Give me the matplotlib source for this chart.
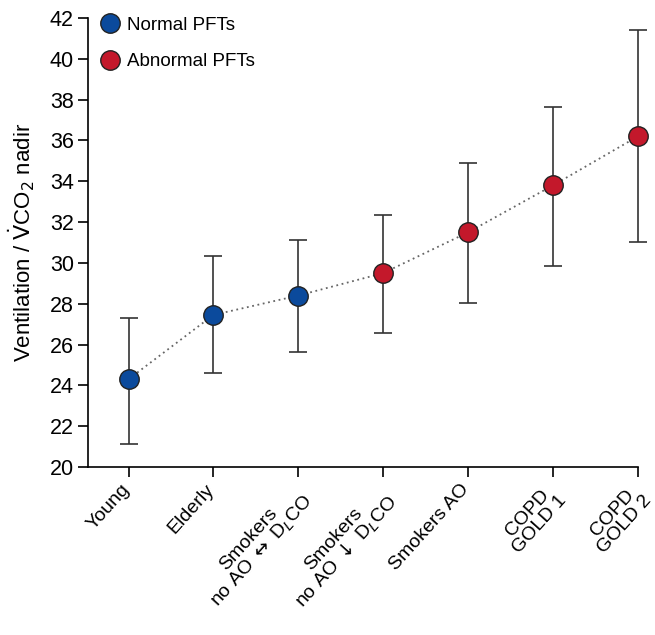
import matplotlib
matplotlib.use("Agg")
import matplotlib.pyplot as plt

plt.rcParams['font.family'] = ['Liberation Sans', 'DejaVu Sans']
plt.rcParams['mathtext.fontset'] = 'dejavusans'

categories = ["Young", "Elderly", "Smokers\nno AO $\\leftrightarrow$ D$_L$CO",
              "Smokers\nno AO $\\downarrow$ D$_L$CO",
              "Smokers AO", "COPD\nGOLD 1", "COPD\nGOLD 2"]
means = [24.3, 27.45, 28.4, 29.5, 31.5, 33.8, 36.2]
lower = [21.15, 24.6, 25.65, 26.55, 28.05, 29.85, 31.0]
upper = [27.3, 30.35, 31.1, 32.35, 34.9, 37.65, 41.4]
normal = [True, True, True, False, False, False, False]
yticks = list(range(20, 43, 2))

blue = "#0b4a9c"
red = "#c3182b"

fig = plt.figure(figsize=(6.55, 6.35), dpi=100)
ax = fig.add_axes([0.134, 0.2646, 0.84, 0.7071])

x = list(range(len(categories)))
ax.plot(x, means, linestyle=(0, (1, 2)), color="#666666", linewidth=1.3, zorder=1, clip_on=False)
yerr = [[m - l for m, l in zip(means, lower)], [u - m for m, u in zip(means, upper)]]
eb = ax.errorbar(x, means, yerr=yerr, fmt='none', ecolor="#333333", elinewidth=1.2,
                 capsize=6.5, capthick=1.2, zorder=2)
for art in eb.lines[1] + eb.lines[2]:
    art.set_clip_on(False)
for xi, m, n in zip(x, means, normal):
    ax.plot(xi, m, 'o', markersize=14, markerfacecolor=blue if n else red,
            markeredgecolor="#222222", markeredgewidth=1.0, zorder=3, clip_on=False)

h1, = ax.plot([], [], 'o', markersize=14, markerfacecolor=blue, markeredgecolor="#222222",
              markeredgewidth=1.0, linestyle='none')
h2, = ax.plot([], [], 'o', markersize=14, markerfacecolor=red, markeredgecolor="#222222",
              markeredgewidth=1.0, linestyle='none')
ax.legend([h1, h2], ["Normal PFTs", "Abnormal PFTs"], loc='upper left', frameon=False,
          fontsize=13.5, handletextpad=0.1, borderaxespad=0.0, labelspacing=1.05,
          handlelength=1.6, bbox_to_anchor=(0.0, 1.02))

ax.set_xlim(-0.48, 6)
ax.set_ylim(20, 42)
ax.set_yticks(yticks)
ax.set_xticks(x)
ax.set_xticklabels([])
for xi, lab in zip(x, categories):
    ax.annotate(lab, xy=(xi, 0), xycoords=('data', 'axes fraction'),
                xytext=(-6, -10), textcoords='offset points',
                rotation=48, ha='right', va='top', rotation_mode='anchor',
                multialignment='center', fontsize=14, linespacing=0.95,
                annotation_clip=False)
ax.tick_params(axis='y', labelsize=15.5, direction='out', length=7, width=1.2, pad=3)
ax.tick_params(axis='x', direction='out', length=7, width=1.2)
for s in ['top', 'right']:
    ax.spines[s].set_visible(False)
for s in ['left', 'bottom']:
    ax.spines[s].set_linewidth(1.2)
ax.set_ylabel(r'Ventilation / $\dot{\mathrm{V}}$CO$_2$ nadir', fontsize=16, labelpad=9)

fig.savefig("out.png", dpi=100)
